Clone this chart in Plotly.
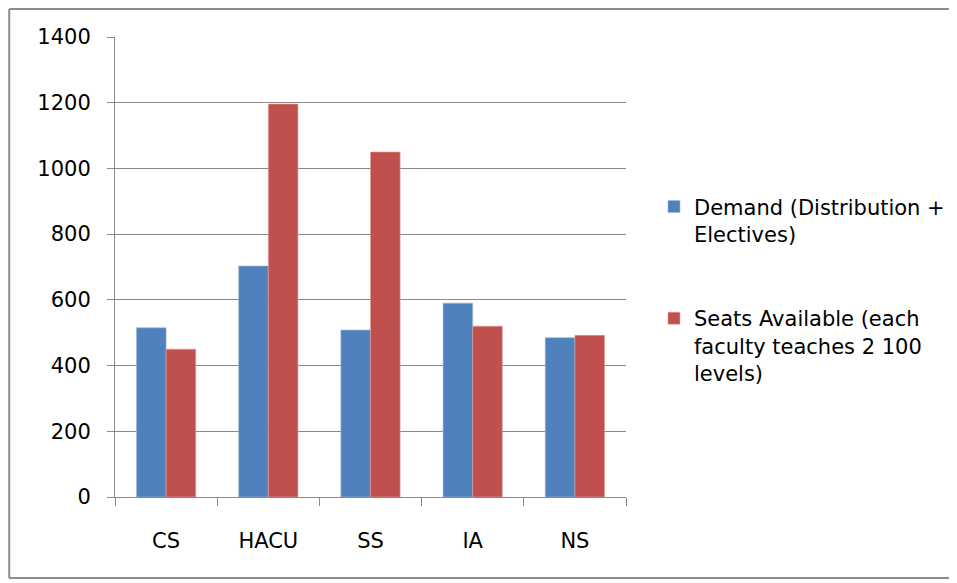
import plotly.graph_objects as go

divisions = ["CS", "HACU", "SS", "IA", "NS"]
demand = [515, 703, 508, 590, 485]
seats = [450, 1196, 1050, 520, 492]

demand_name = "Demand (Distribution +<br>Electives)"
seats_name = "Seats Available (each<br>faculty teaches 2 100<br>levels)"

font = "DejaVu Sans"
grey = "#8a8a8a"

fig = go.Figure()
fig.add_trace(go.Bar(x=divisions, y=demand, name=demand_name, legendgroup="demand",
                     marker=dict(color="#4F81BD", line=dict(color="#9DB9DD", width=0.6))))
fig.add_trace(go.Bar(x=divisions, y=seats, name=seats_name, legendgroup="seats",
                     marker=dict(color="#C0504D", line=dict(color="#E0A09E", width=0.6))))

# outer frame of the chart object (open on the right, like the cropped original)
frame = dict(color="#8c8c8c", width=2)
fig.add_shape(type="line", xref="paper", yref="paper", x0=-0.207, x1=1.8, y0=1.061, y1=1.061, line=frame)
fig.add_shape(type="line", xref="paper", yref="paper", x0=-0.207, x1=1.8, y0=-0.176, y1=-0.176, line=frame)
fig.add_shape(type="line", xref="paper", yref="paper", x0=-0.207, x1=-0.207, y0=-0.176, y1=1.061, line=frame)

fig.update_layout(
    width=957, height=583,
    margin=dict(l=107, r=339, t=29, b=94),
    paper_bgcolor="white", plot_bgcolor="white",
    font=dict(family=font, size=21, color="#000000"),
    barmode="group", bargap=0.42, bargroupgap=0,
    showlegend=True,
    legend=dict(xref="container", yref="container", x=0.675, y=0.694,
                xanchor="left", yanchor="top", valign="top",
                font=dict(family=font, size=21), tracegroupgap=54,
                bgcolor="rgba(0,0,0,0)"),
    xaxis=dict(showgrid=False, showline=True, linecolor=grey, linewidth=1,
               ticks="outside", tickson="boundaries", ticklen=8, tickcolor=grey,
               ticklabelstandoff=25, tickfont=dict(family=font, size=21)),
    yaxis=dict(range=[0, 1400], dtick=200, showgrid=True, gridcolor=grey, gridwidth=1,
               showline=True, linecolor=grey, linewidth=1, ticks="outside", ticklen=7,
               tickcolor=grey, ticklabelstandoff=12, zeroline=False,
               tickfont=dict(family=font, size=21)),
)

fig.write_html("out.html")
